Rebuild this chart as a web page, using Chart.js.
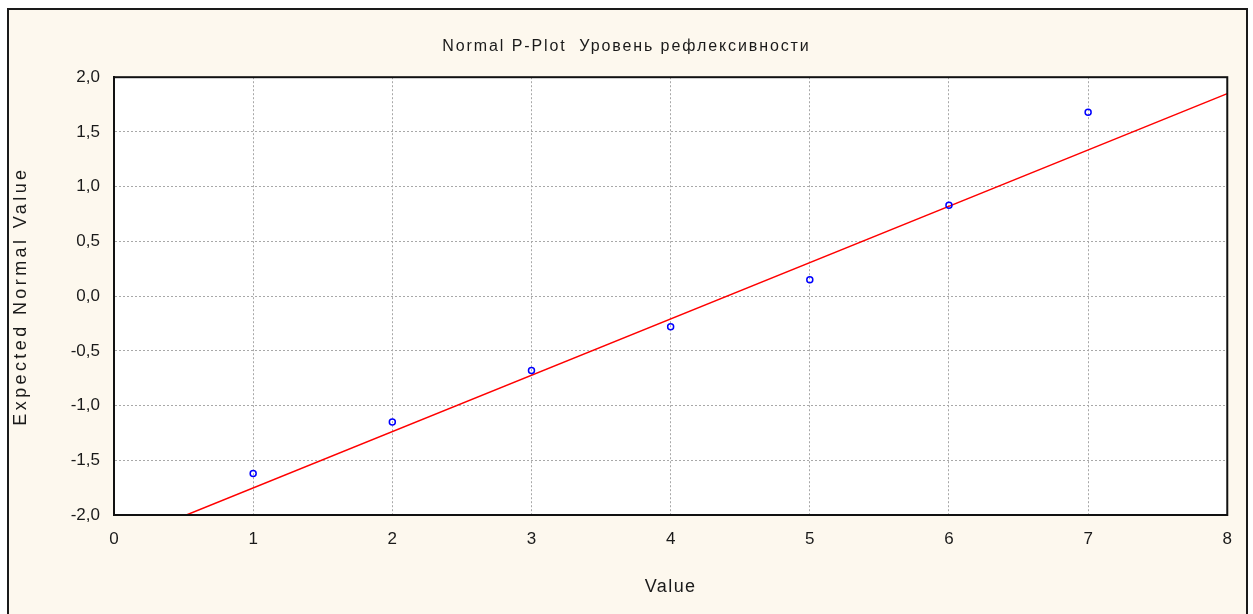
<!DOCTYPE html>
<html>
<head>
<meta charset="utf-8">
<script src="https://cdn.jsdelivr.net/npm/chart.js@4"></script>
<style>
  html, body { margin: 0; padding: 0; background: #ffffff; overflow: hidden; }
  #frame {
    position: absolute; left: 7px; top: 8px;
    width: 1237px; height: 640px;
    border: 2px solid #1a1a1a;
    background: #fdf8ee;
  }
  #myChart { position: absolute; left: 0; top: 0; }
</style>
</head>
<body>
<div id="frame"><canvas id="myChart" width="1237" height="604"></canvas></div>
<script>
// observed values (x) and expected normal values (y)
const values = [1, 2, 3, 4, 5, 6, 7];
const expectedNormal = [-1.62, -1.15, -0.68, -0.28, 0.15, 0.83, 1.68];

// fitted reference line, two end points
const lineX = [0.52, 8];
const lineY = [-2.0, 1.85];

const xTicks = [0, 1, 2, 3, 4, 5, 6, 7, 8];
const yTicks = [-2, -1.5, -1, -0.5, 0, 0.5, 1, 1.5, 2];

const titleText = "Normal P-Plot  Уровень рефлексивности";
const fontFamily = "'Liberation Sans', Arial, sans-serif";

const pointData = values.map((v, i) => ({ x: v, y: expectedNormal[i] }));
const lineData = lineX.map((v, i) => ({ x: v, y: lineY[i] }));

// white plot area and a box round it (top and right sides too)
const plotBox = {
  id: "plotBox",
  beforeDraw(chart) {
    const { ctx, chartArea } = chart;
    ctx.save();
    ctx.fillStyle = "#ffffff";
    ctx.fillRect(chartArea.left, chartArea.top,
      chartArea.right - chartArea.left, chartArea.bottom - chartArea.top);
    ctx.restore();
  },
  afterDatasetsDraw(chart) {
    const { ctx, chartArea } = chart;
    ctx.save();
    ctx.strokeStyle = "#111";
    ctx.lineWidth = 2;
    ctx.strokeRect(chartArea.left, chartArea.top,
      chartArea.right - chartArea.left, chartArea.bottom - chartArea.top);
    ctx.restore();
  },
};

// the old screenshot has widely spaced letters in its titles
function spaced(fn, spacing, dx) {
  return function () {
    const c = this.ctx;
    c.save();
    c.letterSpacing = spacing;
    c.translate(dx || 0, 0);
    fn.apply(this, arguments);
    c.restore();
  };
}

const ctx = document.getElementById("myChart");

const chart = new Chart(ctx, {
  type: "scatter",
  data: {
    datasets: [
      {
        label: "fit",
        type: "line",
        data: lineData,
        borderColor: "#ff0000",
        borderWidth: 1.5,
        pointRadius: 0,
        showLine: true,
        order: 2,
      },
      {
        label: "points",
        data: pointData,
        pointStyle: "circle",
        pointRadius: 3,
        borderColor: "#0000ff",
        backgroundColor: "rgba(0,0,0,0)",
        borderWidth: 1.5,
        order: 1,
      },
    ],
  },
  options: {
    responsive: false,
    animation: false,
    layout: { padding: { left: 0, right: 18, top: 0, bottom: 0 } },
    plugins: {
      legend: { display: false },
      tooltip: { enabled: false },
      title: {
        display: true,
        text: titleText,
        color: "#1a1a1a",
        font: { family: fontFamily, size: 16, weight: "normal" },
        padding: { top: 27, bottom: 21 },
      },
    },
    scales: {
      x: {
        type: "linear",
        min: 0,
        max: 8,
        afterBuildTicks: (scale) => {
          scale.ticks = xTicks.map((v) => ({ value: v }));
        },
        afterFit: (scale) => {
          scale.height = 99;
        },
        ticks: {
          color: "#1a1a1a",
          padding: 14,
          font: { family: fontFamily, size: 17 },
          callback: (v) => String(v),
        },
        grid: {
          color: "#a8a8a8",
          drawTicks: false,
        },
        border: { color: "#111", width: 2, dash: [2, 2] },
        title: {
          display: true,
          text: "Value",
          color: "#1a1a1a",
          font: { family: fontFamily, size: 18 },
          padding: { top: 0, bottom: 16 },
        },
      },
      y: {
        type: "linear",
        min: -2,
        max: 2,
        afterBuildTicks: (scale) => {
          scale.ticks = yTicks.map((v) => ({ value: v }));
        },
        afterFit: (scale) => {
          scale.width = 105;
        },
        ticks: {
          color: "#1a1a1a",
          padding: 14,
          font: { family: fontFamily, size: 17 },
          callback: (v) => v.toFixed(1).replace(".", ","),
        },
        grid: {
          color: "#a8a8a8",
          drawTicks: false,
        },
        border: { color: "#111", width: 2, dash: [2, 2] },
        title: {
          display: true,
          text: "Expected Normal Value",
          color: "#1a1a1a",
          font: { family: fontFamily, size: 18 },
          padding: { top: 1, bottom: 0 },
        },
      },
    },
  },
  plugins: [plotBox],
});

chart.scales.y.drawTitle = spaced(chart.scales.y.drawTitle, "3.4px", 0);
chart.scales.x.drawTitle = spaced(chart.scales.x.drawTitle, "1.4px", 0);
chart.titleBlock.draw = spaced(chart.titleBlock.draw, "1.9px", 8);
chart.draw();
</script>
</body>
</html>
